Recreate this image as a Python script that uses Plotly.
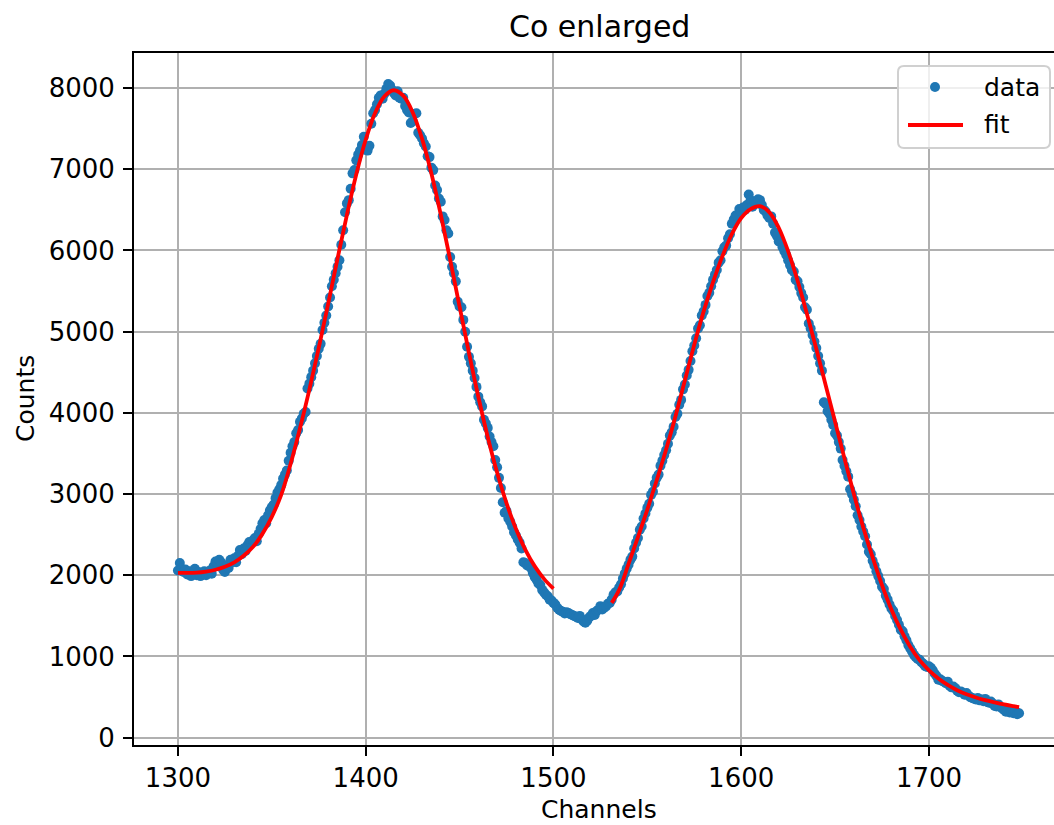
import plotly.graph_objects as go

# ---- data ----
counts = [
    2060, 2150, 2080, 2040, 2070, 2010, 2050, 1990, 2030, 2080,
    2000, 2040, 1990, 2020, 2050, 2000, 2030, 2060, 2020, 2110,
    2170, 2150, 2190, 2160, 2070, 2040, 2120, 2090, 2190, 2160,
    2210, 2160, 2240, 2310, 2260, 2330, 2300, 2370, 2410, 2400,
    2430, 2460, 2420, 2510, 2570, 2640, 2680, 2640, 2740, 2800,
    2840, 2870, 2950, 3020, 3060, 3110, 3190, 3240, 3290, 3410,
    3510, 3590, 3640, 3750, 3790, 3890, 3930, 3990, 4010, 4300,
    4360, 4440, 4520, 4610, 4700, 4790, 4850, 5020, 5110, 5200,
    5310, 5420, 5560, 5640, 5720, 5800, 5880, 6070, 6250, 6470,
    6580, 6620, 6760, 6950, 6990, 7110, 7180, 7230, 7300, 7400,
    7260, 7230, 7290, 7560, 7690, 7730, 7800, 7880, 7910, 7870,
    7930, 7990, 8050, 8030, 7980, 7940, 7910, 7960, 7880, 7870,
    7880, 7780, 7730, 7700, 7570, 7590, 7680, 7690, 7450, 7420,
    7380, 7320, 7280, 7160, 7150, 7020, 6990, 6800, 6745, 6640,
    6600, 6420, 6375, 6250, 6210, 5920, 5800, 5720, 5620, 5370,
    5310, 5300, 5145, 5000, 4815, 4690, 4610, 4520, 4430, 4320,
    4200, 4130, 4080, 3915, 3870, 3815, 3710, 3640, 3590, 3420,
    3330, 3200, 3075, 2900, 2770, 2790, 2700, 2660, 2600, 2530,
    2490, 2440, 2400, 2330, 2160, 2150, 2120, 2130, 2090, 2030,
    1980, 1945, 1900, 1880, 1820, 1790, 1760, 1740, 1700, 1690,
    1660, 1640, 1600, 1575, 1560, 1550, 1530, 1545, 1535, 1520,
    1510, 1500, 1490, 1475, 1500, 1460, 1430, 1415, 1440, 1480,
    1500, 1535, 1510, 1560, 1575, 1620, 1580, 1600, 1615, 1650,
    1660, 1700, 1760, 1790, 1800, 1850, 1890, 1960, 2020, 2080,
    2130, 2190, 2230, 2330, 2400, 2460, 2560, 2600, 2700, 2760,
    2830, 2880, 2990, 3030, 3130, 3200, 3240, 3350, 3410, 3480,
    3540, 3620, 3720, 3760, 3830, 3950, 3990, 4100, 4160, 4290,
    4350, 4460, 4530, 4640, 4760, 4830, 4920, 5040, 5080, 5200,
    5250, 5330, 5440, 5480, 5560, 5640, 5700, 5760, 5850, 5880,
    5990, 6040, 6060, 6150, 6200, 6330, 6380, 6430, 6420, 6510,
    6480, 6530, 6500, 6560, 6690, 6620, 6540, 6600, 6580, 6630,
    6620, 6560, 6500, 6480, 6430, 6400, 6420, 6330, 6220, 6180,
    6110, 6100, 6040, 5990, 5945, 5880, 5820, 5760, 5740, 5640,
    5620, 5550, 5475, 5420, 5300, 5270, 5100, 5040, 4960, 4880,
    4800, 4700, 4610, 4520, 4130, 4110, 4020, 3990, 3915, 3850,
    3750, 3720, 3640, 3560, 3420, 3350, 3280, 3215, 3060, 3000,
    2930, 2850, 2740, 2680, 2600, 2540, 2480, 2380, 2290, 2260,
    2180, 2120, 2050, 1990, 1930, 1860, 1830, 1750, 1700, 1640,
    1590, 1560, 1500, 1450, 1390, 1330, 1310, 1250, 1200, 1140,
    1100, 1060, 1020, 990, 970, 960, 930, 910, 880, 870,
    880, 860, 830, 790, 760, 714, 720, 700, 690, 670,
    690, 640, 620, 631, 610, 580, 560, 570, 550, 530,
    550, 520, 500, 490, 480, 470, 490, 460, 470, 450,
    478, 440, 430, 445, 420, 390, 385, 410, 380, 360,
    340, 320, 330, 310, 320, 300, 330, 290, 300,
]
first_channel = 1300
channels = list(range(first_channel, first_channel + len(counts)))

fit1_x = [1300, 1305, 1310, 1315, 1320, 1325, 1330, 1335, 1340, 1345,
          1350, 1355, 1360, 1365, 1370, 1375, 1380, 1385, 1390, 1395,
          1400, 1405, 1410, 1415, 1420, 1425, 1430, 1435, 1440, 1445,
          1450, 1455, 1460, 1465, 1470, 1475, 1480, 1485, 1490, 1495, 1500]
fit1_y = [2029, 2029, 2033, 2046, 2068, 2105, 2160, 2240, 2350, 2510,
          2720, 2990, 3370, 3810, 4287, 4800, 5343, 5899, 6439, 6938,
          7363, 7692, 7899, 7973, 7906, 7703, 7377, 6948, 6440, 5885,
          5309, 4740, 4199, 3704, 3265, 2888, 2573, 2317, 2113, 1956, 1836]

fit2_x = [1531, 1535, 1540, 1545, 1550, 1555, 1560, 1565, 1570, 1575,
          1580, 1585, 1590, 1595, 1600, 1605, 1610, 1615, 1620, 1625,
          1630, 1635, 1640, 1645, 1650, 1655, 1660, 1665, 1670, 1675,
          1680, 1685, 1690, 1695, 1700, 1705, 1710, 1715, 1720, 1725,
          1730, 1735, 1740, 1745, 1748]
fit2_y = [1660, 1820, 2140, 2470, 2810, 3170, 3550, 3960, 4400, 4840,
          5250, 5610, 5930, 6200, 6400, 6510, 6545, 6470, 6280, 5990,
          5630, 5220, 4790, 4340, 3890, 3440, 3000, 2590, 2220, 1880,
          1580, 1330, 1120, 955, 830, 730, 650, 585, 535, 495,
          462, 435, 410, 388, 375]

x_ticks = [1300, 1400, 1500, 1600, 1700]
y_ticks = [0, 1000, 2000, 3000, 4000, 5000, 6000, 7000, 8000]
legend_labels = ["data", "fit"]

DATA_COLOR = "#1f77b4"
FIT_COLOR = "#ff0000"
FONT = "DejaVu Sans"
W, H = 1054, 825
L, R, T, B = 134, 0, 53, 80
pw, ph = W - L - R, H - T - B


def px(xp):
    return (xp - L) / pw


def py(yp):
    return (H - B - yp) / ph


fig = go.Figure()
fig.add_trace(go.Scatter(
    x=channels, y=counts, mode="markers", name=legend_labels[0],
    marker=dict(color=DATA_COLOR, size=10, line=dict(width=0)),
))
fig.add_trace(go.Scatter(
    x=fit1_x, y=fit1_y, mode="lines", name=legend_labels[1],
    line=dict(color=FIT_COLOR, width=3.8, shape="spline"),
))
fig.add_trace(go.Scatter(
    x=fit2_x, y=fit2_y, mode="lines", name=legend_labels[1],
    line=dict(color=FIT_COLOR, width=3.8, shape="spline"),
))

axis_common = dict(
    showgrid=True, gridcolor="#b0b0b0", gridwidth=2,
    showline=True, linecolor="black", linewidth=2,
    ticks="outside", ticklen=9, tickwidth=2, tickcolor="black",
    tickfont=dict(family=FONT, size=26, color="black"),
    zeroline=False,
)

# legend box (matplotlib-like, rounded, upper right)
bx0, bx1, by0, by1, rr = 898, 1050, 66, 148, 6
box_path = (
    f"M {px(bx0 + rr)},{py(by0)} L {px(bx1 - rr)},{py(by0)} "
    f"Q {px(bx1)},{py(by0)} {px(bx1)},{py(by0 + rr)} "
    f"L {px(bx1)},{py(by1 - rr)} Q {px(bx1)},{py(by1)} {px(bx1 - rr)},{py(by1)} "
    f"L {px(bx0 + rr)},{py(by1)} Q {px(bx0)},{py(by1)} {px(bx0)},{py(by1 - rr)} "
    f"L {px(bx0)},{py(by0 + rr)} Q {px(bx0)},{py(by0)} {px(bx0 + rr)},{py(by0)} Z"
)
shapes = [
    dict(type="path", path=box_path, xref="paper", yref="paper", layer="above",
         fillcolor="rgba(255,255,255,0.8)", line=dict(color="#d0d0d0", width=2)),
    dict(type="line", xref="paper", yref="paper", layer="above",
         x0=px(908), x1=px(963), y0=py(125), y1=py(125),
         line=dict(color=FIT_COLOR, width=3.8)),
    dict(type="circle", xref="paper", yref="paper", layer="above",
         xsizemode="pixel", ysizemode="pixel", xanchor=px(935), yanchor=py(87),
         x0=-5, x1=5, y0=-5, y1=5, fillcolor=DATA_COLOR, line=dict(width=0)),
]

fig.update_layout(
    width=W, height=H,
    margin=dict(l=L, r=R, t=T, b=B, pad=0),
    paper_bgcolor="white", plot_bgcolor="white",
    font=dict(family=FONT, size=25, color="black"),
    xaxis=dict(range=[1276.6, 1766.6], tickvals=x_ticks, mirror=True, **axis_common),
    yaxis=dict(range=[-90, 8432], tickvals=y_ticks, mirror=False,
               ticklabelstandoff=3, **axis_common),
    showlegend=False,
    shapes=shapes,
    annotations=[
        dict(text="Co enlarged", x=px(599), y=py(27),
             xref="paper", yref="paper", xanchor="center", yanchor="middle",
             showarrow=False, font=dict(family=FONT, size=30, color="black")),
        dict(text="Channels", x=px(599), y=py(810),
             xref="paper", yref="paper", xanchor="center", yanchor="middle",
             showarrow=False, font=dict(family=FONT, size=25, color="black")),
        dict(text="Counts", x=px(25), y=0.5, textangle=-90,
             xref="paper", yref="paper", xanchor="center", yanchor="middle",
             showarrow=False, font=dict(family=FONT, size=25, color="black")),
        dict(text=legend_labels[0], x=px(982), y=py(88),
             xref="paper", yref="paper", xanchor="left", yanchor="middle",
             showarrow=False, font=dict(family=FONT, size=25, color="black")),
        dict(text=legend_labels[1], x=px(982), y=py(125),
             xref="paper", yref="paper", xanchor="left", yanchor="middle",
             showarrow=False, font=dict(family=FONT, size=25, color="black")),
    ],
)

fig.write_html("out.html")
